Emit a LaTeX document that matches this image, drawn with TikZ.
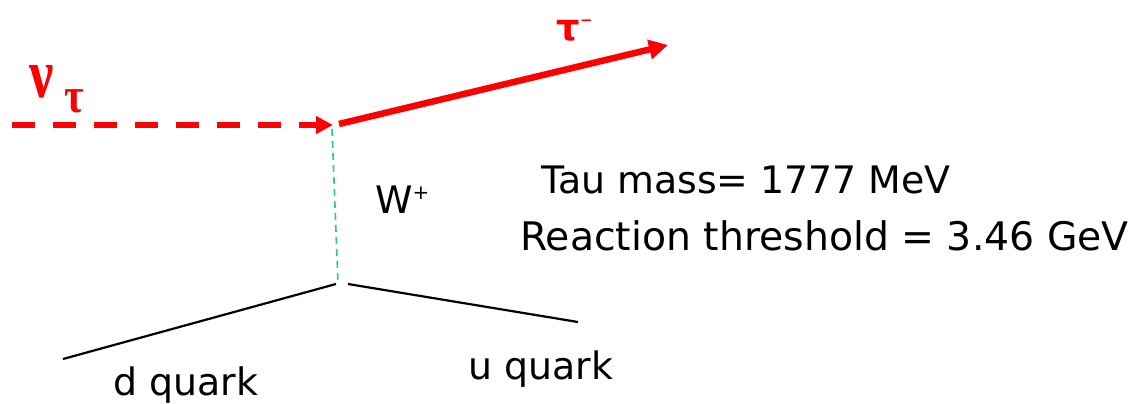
\documentclass[tikz,border=0pt]{standalone}
\usepackage{fontspec}
\setmainfont{DejaVu Sans}
\newfontfamily\grk{Liberation Serif}
\usetikzlibrary{arrows.meta}
\definecolor{nured}{RGB}{255,0,0}
\definecolor{wgreen}{RGB}{30,205,155}
\tikzset{
  lbl/.style={inner sep=0pt, anchor=base west, text=black, font=\fontsize{38}{40}\selectfont},
  redlbl/.style={inner sep=0pt, anchor=base west, text=nured},
  nuline/.style={draw=nured, line width=6.5bp, dash pattern=on 23bp off 18bp,
    -{Triangle[length=17bp,width=17bp]}},
  tauline/.style={draw=nured, line width=6.5bp, -{Triangle[length=19bp,width=19bp]}},
  wline/.style={draw=wgreen, line width=1.6bp, dash pattern=on 7bp off 5bp},
  qline/.style={draw=black, line width=2.2bp}
}
\begin{document}
\begin{tikzpicture}[x=1bp, y=-1bp]
\useasboundingbox (0,0) rectangle (1129,403);
% vertices and end points
\coordinate (nustart) at (12,125);
\coordinate (vtop) at (333,125);
\coordinate (tstart) at (339,124);
\coordinate (tauend) at (668,45);
\coordinate (wtop) at (332,129);
\coordinate (wbot) at (338,283);
\coordinate (dstart) at (336,284);
\coordinate (dend) at (63,359);
\coordinate (ustart) at (348,284);
\coordinate (uend) at (578,322);
% lines
\draw[nuline] (nustart) -- (vtop);
\draw[tauline] (tstart) -- (tauend);
\draw[wline] (wtop) -- (wbot);
\draw[qline] (dstart) -- (dend);
\draw[qline] (ustart) -- (uend);
% labels
\node[redlbl, font=\grk\bfseries\fontsize{70}{70}\selectfont] (nu) at (29,97) {\scalebox{0.78}[1]{ν}};
\node[redlbl, font=\grk\bfseries\fontsize{50}{50}\selectfont] (nusub) at (64,112) {\scalebox{0.85}[1]{τ}};
\node[redlbl, font=\bfseries\fontsize{37}{37}\selectfont] (tau) at (556,40) {τ};
\node[redlbl, font=\bfseries\fontsize{15}{15}\selectfont] (taum) at (580,25) {−};
\node[lbl] (w) at (375,213) {W\raisebox{14bp}{\fontsize{20}{20}\selectfont +}};
\node[lbl] (mass) at (541,193) {Tau mass= 1777 MeV};
\node[lbl, font=\fontsize{39.5}{40}\selectfont] (thr) at (520,250) {Reaction threshold = 3.46 GeV};
\node[lbl] (dq) at (113,395) {d quark};
\node[lbl] (uq) at (468,379) {u quark};
\end{tikzpicture}
\end{document}
